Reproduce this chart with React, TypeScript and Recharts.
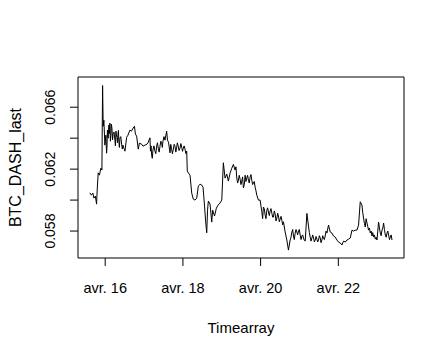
import { LineChart, Line, XAxis, YAxis, ReferenceArea } from 'recharts'

// time in days of April, value in BTC per DASH
const TIME = [
  15.606, 15.644, 15.683, 15.709, 15.747, 15.778, 15.794, 15.82, 15.851, 15.889,
  15.915, 15.933, 15.948, 15.966, 15.992, 16.018, 16.036, 16.057, 16.095, 16.121,
  16.147, 16.173, 16.206, 16.25, 16.276, 16.302, 16.327, 16.353, 16.379, 16.423,
  16.456, 16.508, 16.552, 16.585, 16.637, 16.675, 16.722, 16.753, 16.778, 16.809,
  16.851, 16.881, 16.938, 16.972, 17.023, 17.075, 17.108, 17.152, 17.165, 17.196,
  17.229, 17.281, 17.325, 17.366, 17.41, 17.454, 17.487, 17.539, 17.582, 17.603,
  17.629, 17.668, 17.706, 17.753, 17.796, 17.84, 17.874, 17.925, 17.969, 18.01,
  18.054, 18.098, 18.113, 18.144, 18.183, 18.227, 18.268, 18.312, 18.356, 18.397,
  18.441, 18.485, 18.518, 18.557, 18.582, 18.613, 18.634, 18.655, 18.698, 18.742,
  18.765, 18.814, 18.861, 18.905, 18.956, 19.0, 19.041, 19.085, 19.129, 19.17,
  19.214, 19.258, 19.299, 19.343, 19.387, 19.428, 19.472, 19.515, 19.557, 19.601,
  19.644, 19.686, 19.729, 19.773, 19.814, 19.858, 19.902, 19.943, 19.987, 20.031,
  20.072, 20.116, 20.16, 20.201, 20.245, 20.289, 20.33, 20.374, 20.418, 20.459,
  20.503, 20.546, 20.588, 20.631, 20.675, 20.716, 20.76, 20.804, 20.845, 20.889,
  20.933, 20.974, 21.018, 21.062, 21.103, 21.147, 21.191, 21.232, 21.276, 21.32,
  21.361, 21.405, 21.448, 21.49, 21.534, 21.577, 21.619, 21.662, 21.706, 21.747,
  21.791, 21.835, 21.876, 21.92, 21.964, 22.005, 22.049, 22.093, 22.134, 22.178,
  22.222, 22.263, 22.307, 22.351, 22.392, 22.436, 22.479, 22.521, 22.564, 22.608,
  22.649, 22.693, 22.737, 22.778, 22.822, 22.866, 22.907, 22.951, 22.995, 23.036,
  23.08, 23.124, 23.165, 23.209, 23.253, 23.294, 23.338, 23.381,
]

const BTC_DASH_LAST = [
  0.06047, 0.06032, 0.06045, 0.06013, 0.06026, 0.05974, 0.06065, 0.06176, 0.06161, 0.06206,
  0.06194, 0.0674, 0.06477, 0.06516, 0.06355, 0.06419, 0.06303, 0.06452, 0.06484, 0.06497,
  0.06419, 0.06465, 0.06432, 0.06387, 0.06445, 0.06406, 0.06419, 0.06374, 0.064, 0.06361,
  0.06355, 0.06316, 0.06406, 0.06419, 0.06452, 0.06445, 0.06466, 0.06477, 0.06426, 0.06413,
  0.06329, 0.06368, 0.06361, 0.06348, 0.06355, 0.06361, 0.06374, 0.06402, 0.06316, 0.0629,
  0.06323, 0.06316, 0.06348, 0.06335, 0.06348, 0.06368, 0.06381, 0.06387, 0.06445, 0.06387,
  0.06374, 0.06305, 0.06335, 0.06329, 0.06348, 0.06342, 0.06355, 0.06335, 0.06342, 0.06335,
  0.06329, 0.06316, 0.06187, 0.06174, 0.06161, 0.06045, 0.06006, 0.06, 0.06013, 0.0609,
  0.06103, 0.06097, 0.06084, 0.05961, 0.05871, 0.05789, 0.05935, 0.05994, 0.05974, 0.05858,
  0.05935, 0.05897, 0.05948, 0.05968, 0.05981, 0.06, 0.06241, 0.06142, 0.06168, 0.06123,
  0.06174, 0.06206, 0.0623, 0.06194, 0.06142, 0.06129, 0.06135, 0.06123, 0.06079, 0.06161,
  0.06142, 0.06129, 0.06148, 0.06129, 0.0611, 0.06084, 0.06032, 0.06, 0.06, 0.05925,
  0.05955, 0.05903, 0.05935, 0.05923, 0.05929, 0.05916, 0.0589, 0.0591, 0.05884, 0.05897,
  0.05877, 0.05871, 0.0586, 0.05794, 0.05742, 0.05677, 0.05742, 0.05794, 0.05768, 0.05787,
  0.05794, 0.058, 0.05774, 0.05768, 0.05755, 0.05735, 0.05914, 0.05832, 0.05761, 0.05755,
  0.05755, 0.05742, 0.05748, 0.05742, 0.05755, 0.05742, 0.05755, 0.05768, 0.05787, 0.05839,
  0.05794, 0.05787, 0.05768, 0.05761, 0.05742, 0.05729, 0.05723, 0.0571, 0.05735, 0.05729,
  0.05742, 0.05748, 0.05755, 0.05806, 0.058, 0.05806, 0.05806, 0.05839, 0.05989, 0.05968,
  0.05884, 0.05826, 0.05852, 0.05806, 0.05787, 0.05768, 0.05761, 0.05748, 0.05742, 0.05858,
  0.05787, 0.05806, 0.05852, 0.05774, 0.05787, 0.05774, 0.05761, 0.05742,
]

// extra ticks in the noisy stretches
const TIME_NOISE = [
  16.027, 16.047, 16.076, 16.108, 16.134, 16.16, 16.19, 16.228, 16.263, 16.289,
  16.315, 16.34, 16.366, 16.401, 16.44,
  17.18, 17.212, 17.255, 17.303, 17.345, 17.388, 17.432, 17.47, 17.513,
  17.687, 17.73, 17.775, 17.818, 17.857, 17.9, 17.947, 17.99, 18.032, 18.076,
  19.365, 19.408, 19.45, 19.494, 19.536, 19.58, 19.622, 19.665, 19.708, 19.751,
  19.794, 19.836, 19.88,
  20.052, 20.094, 20.138, 20.18, 20.223, 20.267, 20.31, 20.352, 20.396, 20.438,
  20.481, 20.525, 20.567,
  20.782, 20.825, 20.867, 20.911, 20.953, 20.996, 21.04, 21.083, 21.125, 21.254,
  21.298, 21.34, 21.383, 21.426, 21.469, 21.512, 21.555, 21.598, 21.64, 21.684,
  22.628, 22.671, 22.715, 22.757, 22.8, 22.844, 22.886, 22.929, 22.973, 23.015,
  23.058, 23.102, 23.145, 23.187, 23.231, 23.273, 23.316, 23.36,
]

const BTC_DASH_NOISE = [
  0.0636, 0.0635, 0.064, 0.0643, 0.0638, 0.0649, 0.0639, 0.0644, 0.0635, 0.0642,
  0.0637, 0.0645, 0.0634, 0.0641, 0.0633,
  0.0635, 0.0627, 0.0635, 0.063, 0.0637, 0.0631, 0.0638, 0.0634, 0.0641,
  0.0636, 0.063, 0.0636, 0.0631, 0.0637, 0.0632, 0.06365, 0.06315, 0.0635, 0.063,
  0.06215, 0.0611, 0.0616, 0.061, 0.0615, 0.061, 0.0612, 0.0616, 0.0611, 0.06165,
  0.061, 0.0612, 0.0606,
  0.0588, 0.05945, 0.0588, 0.0595, 0.059, 0.05945, 0.0589, 0.0593, 0.05865, 0.05915,
  0.0586, 0.05895, 0.0584,
  0.0576, 0.0581, 0.05745, 0.0581, 0.05775, 0.0581, 0.05745, 0.05775, 0.0574, 0.0579,
  0.05735, 0.05775, 0.0573, 0.05765, 0.0573, 0.0577, 0.05725, 0.0577, 0.05745, 0.058,
  0.0592, 0.0585, 0.0588, 0.0583, 0.0582, 0.058, 0.0579, 0.05775, 0.0576, 0.058,
  0.0582, 0.0577, 0.0582, 0.0581, 0.0576, 0.058, 0.05745, 0.05775,
]

const X_TICKS = [16, 18, 20, 22]
const Y_TICKS = [0.058, 0.06, 0.062, 0.064, 0.066]
const Y_LABELED = [0.058, 0.062, 0.066]
const X_DOMAIN: [number, number] = [15.3, 23.69]
const Y_DOMAIN: [number, number] = [0.05626, 0.06795]

const FONT = '"Liberation Sans", Arial, sans-serif'
const BOX = { left: 78, top: 77, right: 404, bottom: 258 }

const data = [
  ...TIME.map((t, i) => ({ t, v: BTC_DASH_LAST[i] })),
  ...TIME_NOISE.map((t, i) => ({ t, v: BTC_DASH_NOISE[i] })),
].sort((a, b) => a.t - b.t)

function XTick(props: any) {
  const { x, payload } = props
  return (
    <g>
      <line x1={x} x2={x} y1={BOX.bottom} y2={BOX.bottom + 8} stroke="#000" />
      <text x={x} y={293} textAnchor="middle" fontSize={14.5} fontFamily={FONT} fill="#000">
        {`avr. ${payload.value}`}
      </text>
    </g>
  )
}

function YTick(props: any) {
  const { y, payload } = props
  const labeled = Y_LABELED.some(v => Math.abs(v - payload.value) < 1e-9)
  return (
    <g>
      <line x1={BOX.left - 8} x2={BOX.left} y1={y} y2={y} stroke="#000" />
      {labeled && (
        <text
          x={55}
          y={y}
          transform={`rotate(-90, 55, ${y})`}
          textAnchor="middle"
          fontSize={14}
          fontFamily={FONT}
          fill="#000"
        >
          {payload.value.toFixed(3)}
        </text>
      )}
    </g>
  )
}

export default function App() {
  return (
    <div style={{ position: 'absolute', left: 0, top: 0, width: 445, height: 356, background: '#fff' }}>
      <LineChart
        width={445}
        height={356}
        data={data}
        margin={{ top: BOX.top, right: 445 - BOX.right, bottom: 0, left: 0 }}
      >
        <XAxis
          dataKey="t"
          type="number"
          domain={X_DOMAIN}
          ticks={X_TICKS}
          allowDataOverflow
          height={356 - BOX.bottom}
          axisLine={false}
          tickLine={false}
          tick={XTick}
          label={{
            content: () => (
              <text x={241} y={333} textAnchor="middle" fontSize={15} fontFamily={FONT} fill="#000">
                Timearray
              </text>
            ),
          }}
        />
        <YAxis
          type="number"
          domain={Y_DOMAIN}
          ticks={Y_TICKS}
          allowDataOverflow
          width={BOX.left}
          axisLine={false}
          tickLine={false}
          tick={YTick}
          label={{
            content: () => (
              <text
                x={21}
                y={167.5}
                transform="rotate(-90, 21, 167.5)"
                textAnchor="middle"
                fontSize={16}
                fontFamily={FONT}
                fill="#000"
              >
                BTC_DASH_last
              </text>
            ),
          }}
        />
        <ReferenceArea
          x1={X_DOMAIN[0]}
          x2={X_DOMAIN[1]}
          y1={Y_DOMAIN[0]}
          y2={Y_DOMAIN[1]}
          fill="none"
          stroke="#000"
          strokeWidth={1}
        />
        <Line
          dataKey="v"
          type="linear"
          stroke="#000"
          strokeWidth={1}
          dot={false}
          isAnimationActive={false}
        />
      </LineChart>
    </div>
  )
}
